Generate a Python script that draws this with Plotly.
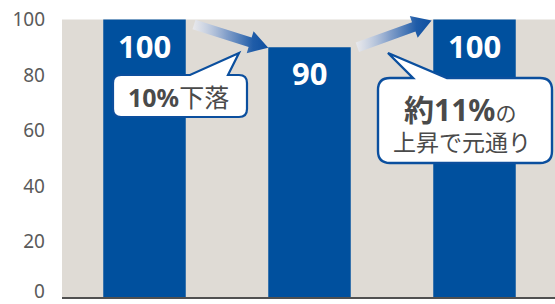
import plotly.graph_objects as go

# ---- data ----
categories = [0, 1, 2]
values = [100, 90, 100]
bar_labels = ["100", "90", "100"]
ytick_vals = [20, 40, 60, 80, 100]
ytick_text = ["20", "40", "60", "80", "100"]
zero_label = "0"
callout1_text = "<b>10%</b>下落"
callout2_line1 = "<b>約11%</b><span style='font-size:21px'>の</span>"
callout2_line2 = "上昇で元通り"

# ---- layout geometry ----
W, H = 555, 304
ML, MR, MT, MB = 62, 0, 14, 7
PW, PH = W - ML - MR, H - MT - MB
XMIN = -0.5
PXX = 165.0
XMAX = XMIN + PW / PXX
YMAX = 102
PXY = PH / YMAX
Y0PX = H - MB

BAR_COLOR = "#00509E"
BG = "#DFDBD5"
TEXT = "#4A4A4A"
TICK = "#5A5A5A"
FONT = "Noto Sans, Noto Sans CJK JP, sans-serif"


def px2x(px):
    return XMIN + (px - ML) / PXX


def py2y(py):
    return (Y0PX - py) / PXY


def x2px(x):
    return ML + (x - XMIN) * PXX


def y2py(y):
    return Y0PX - y * PXY


fig = go.Figure()

fig.add_trace(go.Bar(x=categories, y=values, width=0.5, marker=dict(color=BAR_COLOR, line=dict(width=0)),
                     hoverinfo="skip"))


# gradient arrows between bar tops (computed in pixel space from data)
def arrow(x0, y0, x1, y1, w=5.0, hw=11.5, hl=19.0):
    sx, sy = x2px(x0), y2py(y0)
    tx, ty = x2px(x1), y2py(y1)
    dx, dy = tx - sx, ty - sy
    ln = (dx * dx + dy * dy) ** 0.5
    ux, uy = dx / ln, dy / ln
    nx, ny = -uy, ux
    hx, hy = tx - ux * hl, ty - uy * hl
    pts = [(sx + nx * w, sy + ny * w), (hx + nx * w, hy + ny * w), (hx + nx * hw, hy + ny * hw),
           (tx, ty), (hx - nx * hw, hy - ny * hw), (hx - nx * w, hy - ny * w), (sx - nx * w, sy - ny * w),
           (sx + nx * w, sy + ny * w)]
    xs = [px2x(p[0]) for p in pts]
    ys = [py2y(p[1]) for p in pts]
    return xs, ys


arrow_specs = [
    (0.3, values[0] - 1.8, 1 - 0.25, values[1] - 0.2),
    (1.29, values[1] + 0.0, 2 - 0.26, values[2] - 0.3),
]
for a in arrow_specs:
    xs, ys = arrow(*a)
    fig.add_trace(go.Scatter(
        x=xs, y=ys, mode="lines", fill="toself", line=dict(width=0, color="rgba(0,0,0,0)"),
        fillgradient=dict(type="horizontal", start=min(xs), stop=max(xs),
                          colorscale=[[0, "rgba(240,242,250,0.6)"], [0.45, "rgba(120,152,200,0.9)"],
                                      [0.8, "#1F5CA8"], [1, "#0E4FA0"]]),
        hoverinfo="skip", showlegend=False))


# callout shapes (pixel geometry converted to data coords)
def callout_path(L, R, T, B, r, b0, tip, b1):
    def P(px, py):
        return f"{px2x(px):.5f},{py2y(py):.5f}"
    s = f"M{P(L + r, T)} L{P(b0, T)} L{P(*tip)} L{P(b1, T)} L{P(R - r, T)} Q{P(R, T)} {P(R, T + r)} "
    s += f"L{P(R, B - r)} Q{P(R, B)} {P(R - r, B)} L{P(L + r, B)} Q{P(L, B)} {P(L, B - r)} "
    s += f"L{P(L, T + r)} Q{P(L, T)} {P(L + r, T)} Z"
    return s


shapes = [
    dict(type="rect", xref="x", yref="y", x0=XMIN, x1=XMAX, y0=0, y1=100, fillcolor=BG, line=dict(width=0),
         layer="below"),
    dict(type="path", xref="x", yref="y", path=callout_path(113, 247, 75, 117, 8, 190, (239, 53), 228),
         fillcolor="white", line=dict(color="#0B4F9E", width=2.2), layer="above"),
    dict(type="path", xref="x", yref="y", path=callout_path(378, 552, 78, 163, 12, 413, (388, 53), 447),
         fillcolor="white", line=dict(color="#0B4F9E", width=2.4), layer="above"),
]

annotations = []
for c, v, t in zip(categories, values, bar_labels):
    annotations.append(dict(x=c, y=v, yshift=-26, text=t, showarrow=False, xanchor="center", yanchor="middle",
                            font=dict(family=FONT, size=31, color="white", weight="bold")))

annotations.append(dict(x=px2x(178), y=py2y(97), text=callout1_text, showarrow=False, xanchor="center",
                        yanchor="middle", font=dict(family=FONT, size=25, color=TEXT)))
annotations.append(dict(x=px2x(460), y=py2y(109), text=callout2_line1, showarrow=False, xanchor="center",
                        yanchor="middle", font=dict(family=FONT, size=30, color=TEXT)))
annotations.append(dict(x=px2x(462), y=py2y(142), text=callout2_line2, showarrow=False, xanchor="center",
                        yanchor="middle", font=dict(family=FONT, size=23, color=TEXT)))
# zero tick label: nudged up so it stays fully inside the page
annotations.append(dict(x=0, xref="paper", xshift=-16, y=0, yshift=6, text=zero_label, showarrow=False,
                        xanchor="right", yanchor="middle", borderpad=0,
                        font=dict(family=FONT, size=19, color=TICK)))

fig.update_layout(
    width=W, height=H, margin=dict(l=ML, r=MR, t=MT, b=MB, pad=0, autoexpand=False),
    paper_bgcolor="white", plot_bgcolor="white", showlegend=False,
    shapes=shapes, annotations=annotations,
    xaxis=dict(range=[XMIN, XMAX], showgrid=False, zeroline=False, showticklabels=False, ticks="",
               showline=True, linecolor="#505050", linewidth=1.5, fixedrange=True),
    yaxis=dict(range=[0, YMAX], showgrid=False, zeroline=False, tickvals=ytick_vals, ticktext=ytick_text,
               ticks="", ticklabelstandoff=16, tickfont=dict(family=FONT, size=19, color=TICK),
               showline=False, fixedrange=True),
)

fig.write_html("out.html", config={"displayModeBar": False, "staticPlot": True},
               post_script="document.body.style.margin='0px';document.body.style.overflow='hidden';")
